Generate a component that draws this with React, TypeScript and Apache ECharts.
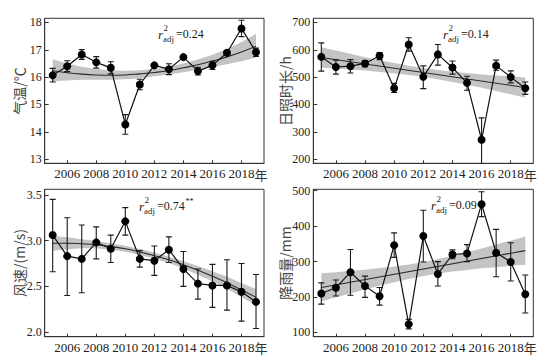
import React, { useEffect, useRef } from 'react';
import * as echarts from 'echarts';

const years = [2005, 2006, 2007, 2008, 2009, 2010, 2011, 2012, 2013, 2014, 2015, 2016, 2017, 2018, 2019];
const xTicks = [2006, 2008, 2010, 2012, 2014, 2016, 2018];
const lastTick = 2018;
const yearUnit = '年';

// Temperature (°C)
const tempMean = [16.07, 16.4, 16.83, 16.54, 16.34, 14.27, 15.73, 16.43, 16.29, 16.73, 16.22, 16.43, 16.89, 17.78, 16.91];
const tempLow = [15.82, 16.2, 16.65, 16.33, 16.12, 13.91, 15.54, 16.38, 16.09, 16.68, 16.08, 16.28, 16.84, 17.48, 16.76];
const tempHigh = [16.32, 16.6, 17.01, 16.75, 16.56, 14.63, 15.92, 16.48, 16.49, 16.78, 16.36, 16.58, 16.94, 18.08, 17.06];
const tempFit = [16.23, 16.16, 16.11, 16.08, 16.07, 16.08, 16.12, 16.17, 16.24, 16.34, 16.45, 16.59, 16.74, 16.92, 17.13];
const tempBandHi = [16.65, 16.5, 16.38, 16.3, 16.25, 16.23, 16.25, 16.3, 16.38, 16.5, 16.64, 16.82, 17.03, 17.28, 17.58];
const tempBandLo = [15.85, 15.88, 15.9, 15.9, 15.9, 15.92, 15.96, 16.03, 16.1, 16.18, 16.27, 16.37, 16.47, 16.58, 16.72];
const tempTicks = [13, 14, 15, 16, 17, 18];

// Sunshine duration (h)
const sunMean = [574, 537, 540, 550, 578, 459, 619, 501, 583, 535, 479, 271, 542, 500, 459];
const sunLow = [522, 511, 515, 537, 564, 444, 595, 458, 544, 511, 452, 184, 525, 479, 437];
const sunHigh = [625, 562, 564, 561, 590, 477, 644, 541, 619, 559, 503, 351, 562, 523, 482];
const sunFitYears = [2005, 2019];
const sunFit = [572, 462];
const sunBandHi = [609, 597, 585, 573, 562, 552, 542, 533, 526, 520, 515, 510, 506, 503, 499];
const sunBandLo = [535, 531, 528, 524, 519, 514, 508, 501, 492, 482, 472, 461, 449, 437, 425];
const sunTicks = [200, 300, 400, 500, 600, 700];

// Wind speed (m/s)
const windMean = [3.06, 2.83, 2.8, 2.98, 2.91, 3.21, 2.8, 2.78, 2.9, 2.69, 2.53, 2.51, 2.51, 2.44, 2.33];
const windLow = [2.66, 2.4, 2.43, 2.8, 2.76, 3.06, 2.71, 2.62, 2.76, 2.5, 2.36, 2.27, 2.24, 2.12, 2.04];
const windHigh = [3.45, 3.25, 3.17, 3.15, 3.06, 3.36, 2.89, 2.94, 3.04, 2.88, 2.69, 2.74, 2.79, 2.75, 2.63];
const windFit = [2.97, 2.97, 2.965, 2.955, 2.935, 2.91, 2.875, 2.835, 2.79, 2.735, 2.675, 2.61, 2.54, 2.46, 2.38];
const windBandHi = [3.05, 3.035, 3.015, 2.995, 2.97, 2.943, 2.908, 2.869, 2.826, 2.775, 2.722, 2.665, 2.605, 2.537, 2.47];
const windBandLo = [2.89, 2.905, 2.915, 2.915, 2.9, 2.877, 2.842, 2.801, 2.754, 2.695, 2.628, 2.555, 2.475, 2.383, 2.29];
const windTicks = [2.0, 2.5, 3.0, 3.5];

// Rainfall (mm)
const rainMean = [210, 226, 270, 231, 202, 346, 123, 372, 265, 320, 323, 462, 325, 299, 208];
const rainLow = [180, 203, 205, 199, 177, 312, 110, 299, 231, 308, 300, 427, 257, 245, 155];
const rainHigh = [240, 248, 334, 259, 227, 381, 137, 445, 300, 333, 348, 497, 391, 353, 262];
const rainFitYears = [2005, 2019];
const rainFit = [227, 331];
const rainBandHi = [267, 270, 274, 277, 282, 286, 292, 299, 307, 316, 326, 337, 348, 359, 371];
const rainBandLo = [187, 199, 210, 221, 232, 242, 251, 259, 266, 272, 276, 281, 284, 288, 291];
const rainTicks = [100, 200, 300, 400, 500];

const SERIF = 'Liberation Serif';
const CJK = 'Noto Sans CJK SC';
const X_MIN = 2004.45;
const X_MAX = 2019.55;

const grids = [
  { left: 44.7, top: 18.3, width: 219.3, height: 145 },
  { left: 313.3, top: 18.3, width: 220, height: 145 },
  { left: 44.7, top: 189.3, width: 219.3, height: 147.4 },
  { left: 313.3, top: 189.3, width: 220, height: 147.4 },
];

const yRanges = [
  { min: 12.85, max: 18.15, ticks: tempTicks, fmt: (v: number) => String(v) },
  { min: 185, max: 715, ticks: sunTicks, fmt: (v: number) => String(v) },
  { min: 1.95, max: 3.56, ticks: windTicks, fmt: (v: number) => v.toFixed(1) },
  { min: 88, max: 504, ticks: rainTicks, fmt: (v: number) => String(v) },
];

function bandSeries(i: number, hi: number[], lo: number[]) {
  return {
    type: 'custom',
    xAxisIndex: i,
    yAxisIndex: i,
    silent: true,
    clip: true,
    z: 1,
    data: [[years[0], lo[0]]],
    renderItem: (_p: any, api: any) => {
      const pts: number[][] = [];
      years.forEach((y, k) => pts.push(api.coord([y, hi[k]])));
      for (let k = years.length - 1; k >= 0; k--) pts.push(api.coord([years[k], lo[k]]));
      return { type: 'polygon', shape: { points: pts }, style: { fill: '#c4c4c4', stroke: 'none' } };
    },
  };
}

function errSeries(i: number, lo: number[], hi: number[]) {
  return {
    type: 'custom',
    xAxisIndex: i,
    yAxisIndex: i,
    silent: true,
    clip: true,
    z: 3,
    data: years.map((y, k) => [y, lo[k], hi[k]]),
    encode: { x: 0, y: [1, 2] },
    renderItem: (_p: any, api: any) => {
      const x = api.value(0);
      const a = api.coord([x, api.value(1)]);
      const b = api.coord([x, api.value(2)]);
      const w = 3;
      const style = { stroke: '#1a1a1a', lineWidth: 1.1 };
      return {
        type: 'group',
        children: [
          { type: 'line', shape: { x1: a[0], y1: a[1], x2: b[0], y2: b[1] }, style },
          { type: 'line', shape: { x1: a[0] - w, y1: a[1], x2: a[0] + w, y2: a[1] }, style },
          { type: 'line', shape: { x1: b[0] - w, y1: b[1], x2: b[0] + w, y2: b[1] }, style },
        ],
      };
    },
  };
}

function fitSeries(i: number, xs: number[], ys: number[], smooth: boolean) {
  return {
    type: 'line',
    xAxisIndex: i,
    yAxisIndex: i,
    silent: true,
    z: 2,
    smooth,
    showSymbol: false,
    symbol: 'none',
    data: xs.map((x, k) => [x, ys[k]]),
    lineStyle: { color: '#2a2a2a', width: 1.1 },
  };
}

function dataSeries(i: number, ys: number[]) {
  return {
    type: 'line',
    xAxisIndex: i,
    yAxisIndex: i,
    z: 4,
    symbol: 'circle',
    symbolSize: 8,
    data: years.map((y, k) => [y, ys[k]]),
    itemStyle: { color: '#000' },
    lineStyle: { color: '#111', width: 1.2 },
  };
}

function rAdj(x: number, y: number, val: string, stars: boolean) {
  const els: any[] = [
    { type: 'text', x, y, style: { text: 'r', font: `italic 13px "${SERIF}"`, fill: '#222', align: 'left', verticalAlign: 'middle' } },
    { type: 'text', x: x + 5.5, y: y - 6.5, style: { text: '2', font: `9px "${SERIF}"`, fill: '#222', align: 'left', verticalAlign: 'middle' } },
    { type: 'text', x: x + 5, y: y + 4.5, style: { text: 'adj', font: `9px "${SERIF}"`, fill: '#222', align: 'left', verticalAlign: 'middle' } },
    { type: 'text', x: x + 18, y, style: { text: '=' + val, font: `12px "${SERIF}"`, fill: '#222', align: 'left', verticalAlign: 'middle' } },
  ];
  if (stars) {
    els.push({ type: 'text', x: x + 46.5, y: y - 4.5, style: { text: '**', font: `8px "${SERIF}"`, fill: '#222', align: 'left', verticalAlign: 'middle' } });
  }
  return els;
}

function axisName(x: number, y: number, text: string) {
  return {
    type: 'text',
    x,
    y,
    rotation: Math.PI / 2,
    style: { text, font: `14px "${CJK}"`, fill: '#444', align: 'center', verticalAlign: 'middle' },
  };
}

function unitLabel(g: { left: number; top: number; width: number; height: number }) {
  const xPos = g.left + ((lastTick - X_MIN) / (X_MAX - X_MIN)) * g.width + 13;
  return {
    type: 'text',
    x: xPos,
    y: g.top + g.height + 11,
    style: { text: yearUnit, font: `13px "${CJK}"`, fill: '#333', align: 'left', verticalAlign: 'middle' },
  };
}

export default function App() {
  const ref = useRef<HTMLDivElement>(null);
  useEffect(() => {
    if (!ref.current) return;
    const chart = echarts.init(ref.current, undefined, { renderer: 'svg' });
    const option: any = {
      animation: false,
      backgroundColor: '#fff',
      textStyle: { fontFamily: SERIF },
      grid: grids.map((g) => ({ ...g, show: true, borderColor: '#333', borderWidth: 1, backgroundColor: 'transparent', containLabel: false })),
      xAxis: grids.map((_, i) => ({
        type: 'value',
        gridIndex: i,
        min: X_MIN,
        max: X_MAX,
        axisLine: { show: true, onZero: false, lineStyle: { color: '#333', width: 1 } },
        axisTick: { show: true, inside: true, length: 3, customValues: xTicks, lineStyle: { color: '#333' } },
        axisLabel: {
          customValues: xTicks,
          fontFamily: SERIF,
          fontSize: 13,
          color: '#222',
          margin: 4,
          hideOverlap: false,
          formatter: (v: number) => String(v),
        },
        splitLine: { show: false },
      })),
      yAxis: yRanges.map((r, i) => ({
        type: 'value',
        gridIndex: i,
        min: r.min,
        max: r.max,
        axisLine: { show: true, onZero: false, lineStyle: { color: '#333', width: 1 } },
        axisTick: { show: true, inside: true, length: 4, customValues: r.ticks, lineStyle: { color: '#333' } },
        axisLabel: { customValues: r.ticks, fontFamily: SERIF, fontSize: 12, color: '#222', margin: 3, formatter: r.fmt },
        splitLine: { show: false },
      })),
      series: [
        bandSeries(0, tempBandHi, tempBandLo),
        fitSeries(0, years, tempFit, true),
        errSeries(0, tempLow, tempHigh),
        dataSeries(0, tempMean),

        bandSeries(1, sunBandHi, sunBandLo),
        fitSeries(1, sunFitYears, sunFit, false),
        errSeries(1, sunLow, sunHigh),
        dataSeries(1, sunMean),

        bandSeries(2, windBandHi, windBandLo),
        fitSeries(2, years, windFit, true),
        errSeries(2, windLow, windHigh),
        dataSeries(2, windMean),

        bandSeries(3, rainBandHi, rainBandLo),
        fitSeries(3, rainFitYears, rainFit, false),
        errSeries(3, rainLow, rainHigh),
        dataSeries(3, rainMean),
      ],
      graphic: [
        axisName(19, 91, '气温/℃'),
        axisName(284.5, 91, '日照时长/h'),
        axisName(19, 263, '风速/(m/s)'),
        axisName(284.5, 263, '降雨量/mm'),
        ...grids.map((g) => unitLabel(g)),
        ...rAdj(158, 34, '0.24', false),
        ...rAdj(443, 34, '0.14', false),
        ...rAdj(139, 206, '0.74', true),
        ...rAdj(431, 205, '0.09', false),
      ],
    };
    chart.setOption(option);
    return () => chart.dispose();
  }, []);
  return <div ref={ref} style={{ position: 'fixed', left: 0, top: 0, width: 559, height: 361 }} />;
}
